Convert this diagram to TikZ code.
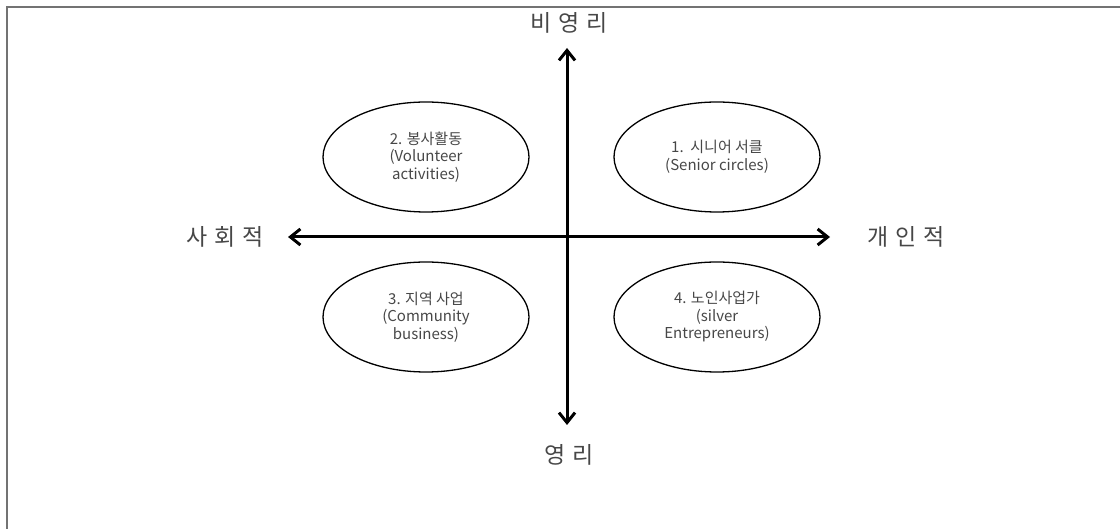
\documentclass[tikz,border=0pt]{standalone}
\usepackage{fontspec}
\setmainfont{Noto Sans CJK KR}
\newfontfamily\axfont[LetterSpace=28]{Noto Sans CJK KR}
\usetikzlibrary{arrows.meta,shapes.geometric}
\tikzset{
  quad/.style={draw=black, line width=1.3pt, ellipse, minimum width=206pt, minimum height=110pt, inner sep=0pt,
    align=center, font=\fontsize{15pt}{17.5pt}\selectfont, text=black!72},
  axis/.style={line width=3pt, {Straight Barb[length=10pt,width=16pt,line width=3pt]}-{Straight Barb[length=10pt,width=16pt,line width=3pt]}},
  axlabel/.style={font=\axfont\fontsize{23pt}{26pt}\selectfont, text=black!72, inner sep=0pt}
}
\begin{document}
\begin{tikzpicture}[x=1pt,y=-1pt]
\useasboundingbox (0,0) rectangle (1120,529);
\draw[line width=2pt, black!55] (7,529) -- (7,7) -- (1120,7);
\coordinate (top) at (567,48);
\coordinate (bot) at (567,425);
\coordinate (lft) at (288,237);
\coordinate (rgt) at (830,237);
\draw[axis] (top) -- (bot);
\draw[axis] (lft) -- (rgt);
\node[axlabel] (nonprofit) at (569,23) {비영리};
\node[axlabel] (profit) at (569,455) {영리};
\node[axlabel] (social) at (225,237) {사회적};
\node[axlabel] (personal) at (906,237) {개인적};
\node[quad] (q1) at (717,157) {1.\ \ 시니어 서클\\(Senior circles)};
\node[quad] (q2) at (426,157) {2. 봉사활동\\(Volunteer\\activities)};
\node[quad] (q3) at (426,317) {3. 지역 사업\\(Community\\business)};
\node[quad] (q4) at (717,317) {4. 노인사업가\\(silver\\Entrepreneurs)};
\end{tikzpicture}
\end{document}
